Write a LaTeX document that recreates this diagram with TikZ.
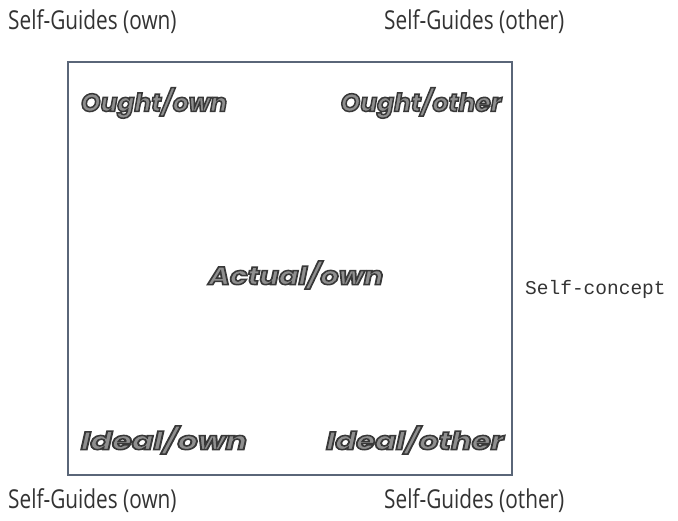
\documentclass[tikz,border=0pt]{standalone}
\usepackage{fontspec}
\setmainfont{Liberation Sans}
\newfontfamily\guidefont{Open Sans}
\newfontfamily\heavyfont{Poppins}
\newfontfamily\monofont{Liberation Mono}
\usetikzlibrary{calc}
\definecolor{frame}{HTML}{5A6678}
\definecolor{ink}{HTML}{333333}
\definecolor{fillgray}{HTML}{8F8F8F}

% hollow lettering: fill gray glyphs and stroke their outlines dark
\newcommand\hollow[1]{\special{pdf:literal 2 Tr 1.5 w 0.22 0.22 0.22 RG}#1\special{pdf:literal 0 Tr}}
% the same, stretched sideways
\newcommand\widehollow[2]{\scalebox{#1}[1]{\hollow{#2}}}

\tikzset{
  guide/.style={font=\guidefont\fontsize{26}{28}\selectfont, text=ink, inner sep=0pt},
  selfbox/.style={draw=frame, line width=2pt},
  heavy/.style={font=\heavyfont\bfseries\itshape\fontsize{25}{28}\selectfont, text=fillgray, inner sep=0pt},
}
\begin{document}
\begin{tikzpicture}[x=1pt,y=1pt]
\useasboundingbox (0,0) rectangle (678,520);
\fill[white] (0,0) rectangle (678,520);

% frame of the self-concept
\draw[selfbox] (68,45) rectangle (512,458);

% corner captions
\node[guide, anchor=west] (gtl) at (8,498) {\scalebox{0.8}[1]{Self-Guides (own)}};
\node[guide, anchor=west] (gtr) at (384,498) {\scalebox{0.8}[1]{Self-Guides (other)}};
\node[guide, anchor=west] (gbl) at (8,19) {\scalebox{0.8}[1]{Self-Guides (own)}};
\node[guide, anchor=west] (gbr) at (384,19) {\scalebox{0.8}[1]{Self-Guides (other)}};

% side caption
\node[font=\monofont\fontsize{19.5}{22}\selectfont, text=ink, anchor=west, inner sep=0pt] (sc) at (525,231) {Self-concept};

% self-state labels
\node[heavy] (ought own) at (154,417) {\hollow{Ought/own}};
\node[heavy] (ought other) at (421,417) {\hollow{Ought/other}};
\node[heavy] (actual) at (296,245) {\widehollow{1.16}{Actual/own}};
\node[heavy] (ideal own) at (164,80) {\widehollow{1.28}{Ideal/own}};
\node[heavy] (ideal other) at (415,80) {\widehollow{1.23}{Ideal/other}};
\end{tikzpicture}
\end{document}
